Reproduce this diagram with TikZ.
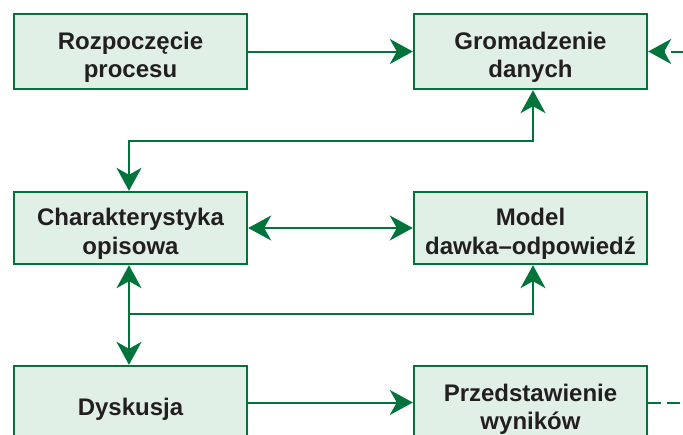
\documentclass[tikz,border=0pt]{standalone}
\usepackage{fontspec}
\setmainfont{Liberation Sans}
\usetikzlibrary{arrows.meta}
\definecolor{dgreen}{RGB}{0,116,58}
\definecolor{lgreen}{RGB}{225,240,230}
\definecolor{txt}{RGB}{35,31,32}
\newcommand\boxtxt[1]{\raisebox{-12.5pt}[0pt][0pt]{\begin{tabular}{@{}c@{}}#1\end{tabular}}}
\begin{document}
\begin{tikzpicture}[x=1pt,y=-1pt,
  box/.style={draw=dgreen,fill=lgreen,line width=2.4pt,minimum width=233pt,
    inner sep=0pt,text=txt,
    font=\fontsize{24}{28.5}\selectfont\bfseries},
  conn/.style={draw=dgreen,line width=2pt},
  tip/.tip={Stealth[length=23pt,width=25pt,inset=7pt]},
  dsh/.style={dash pattern=on 13pt off 6pt}]
\useasboundingbox (0,0) rectangle (683,434);
\clip (0,0) rectangle (683,434);
\node[box,minimum height=75pt] (b1) at (130.5,51.5) {\boxtxt{Rozpoczęcie\\procesu}};
\node[box,minimum height=75pt] (b2) at (530.5,51.5) {\boxtxt{Gromadzenie\\danych}};
\node[box,minimum height=72pt] (b3) at (130.5,228) {\boxtxt{Charakterystyka\\opisowa}};
\node[box,minimum height=72pt] (b4) at (530.5,228) {\boxtxt{Model\\dawka–odpowiedź}};
\node[box,minimum height=75pt] (b5) at (130.5,403.5) {\boxtxt{Dyskusja}};
\node[box,minimum height=75pt] (b6) at (530.5,403.5) {\boxtxt{Przedstawienie\\wyników}};
\coordinate (r1) at (533,141);
\coordinate (l1) at (129,141);
\coordinate (l2) at (129,314);
\coordinate (r2) at (533,314);
\coordinate (inR) at (684,51.5);
\coordinate (outR) at (684,402.5);
\draw[conn,-tip] (b1.east) -- (b2.west);
\draw[conn,dsh,-tip] (inR) -- (b2.east);
\draw[conn,tip-tip] (r1 |- b2.south) -- (r1) -- (l1) -- (l1 |- b3.north);
\draw[conn,tip-tip] (b3.east) -- (b4.west);
\draw[conn,tip-tip] (l2 |- b3.south) -- (l2 |- b5.north);
\draw[conn,-tip] (l2) -- (r2) -- (r2 |- b4.south);
\draw[conn,-tip] (b5.east |- outR) -- (b6.west |- outR);
\draw[conn,dsh] (b6.east |- outR) -- (outR);
\end{tikzpicture}
\end{document}
